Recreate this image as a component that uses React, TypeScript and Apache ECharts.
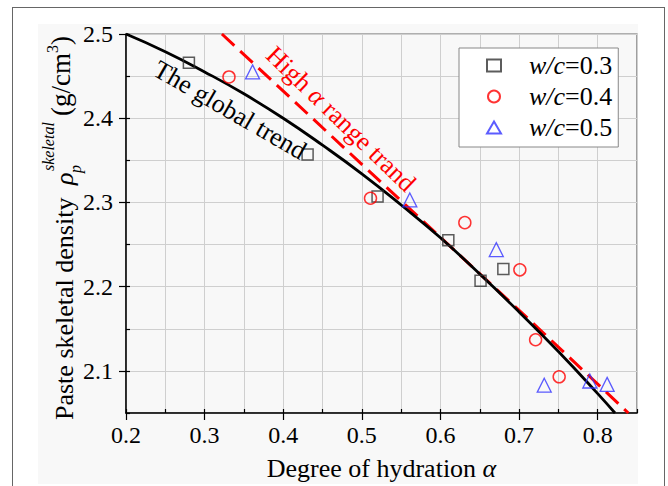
import React, { useEffect, useRef } from 'react';
import * as echarts from 'echarts';

const FONT = 'Liberation Serif';

// Measured data (degree of hydration α, skeletal density g/cm3)
const alphaWC03 = [0.280, 0.431, 0.520, 0.610, 0.651, 0.680];
const rhoWC03 = [2.466, 2.357, 2.307, 2.255, 2.207, 2.221];
const alphaWC04 = [0.331, 0.511, 0.631, 0.701, 0.721, 0.751];
const rhoWC04 = [2.449, 2.305, 2.276, 2.220, 2.137, 2.093];
const alphaWC05 = [0.361, 0.561, 0.671, 0.732, 0.790, 0.812];
const rhoWC05 = [2.455, 2.303, 2.244, 2.083, 2.088, 2.084];

// Trend lines
const globalAlpha = [0.20, 0.25, 0.30, 0.35, 0.40, 0.45, 0.50, 0.55, 0.60, 0.65, 0.70, 0.75, 0.80, 0.822];
const globalRho = [2.500, 2.479, 2.455, 2.429, 2.400, 2.368, 2.334, 2.297, 2.258, 2.215, 2.170, 2.123, 2.073, 2.050];
const highAlpha = [0.322, 0.498, 0.731, 0.839];
const highRho = [2.500, 2.347, 2.145, 2.050];

// Axis ticks
const xMajor = [0.2, 0.3, 0.4, 0.5, 0.6, 0.7, 0.8];
const yMajor = [2.1, 2.2, 2.3, 2.4, 2.5];

const seriesNames = ['w/c=0.3', 'w/c=0.4', 'w/c=0.5'];

const zip = (a: number[], b: number[]) => a.map((v, i) => [v, b[i]]);

export default function App() {
  const ref = useRef<HTMLDivElement>(null);
  useEffect(() => {
    document.body.style.margin = '0';
    const chart = echarts.init(ref.current!, null, { renderer: 'svg' });

    const baseTitle = { fill: '#000', fontFamily: FONT, textAlign: 'left', textVerticalAlign: 'middle' };
    const yTitle = {
      type: 'group',
      x: 72,
      y: 420,
      rotation: Math.PI / 2,
      children: [
        { type: 'text', x: 0, y: -8, style: { ...baseTitle, text: 'Paste skeletal density', fontSize: 26 } },
        { type: 'text', x: 235, y: -8, style: { ...baseTitle, text: 'ρ', fontSize: 26, fontStyle: 'italic' } },
        { type: 'text', x: 247, y: 3, style: { ...baseTitle, text: 'p', fontSize: 16, fontStyle: 'italic' } },
        { type: 'text', x: 249, y: -24, style: { ...baseTitle, text: 'skeletal', fontSize: 16, fontStyle: 'italic' } },
        {
          type: 'text', x: 304, y: -11,
          style: {
            ...baseTitle, text: '(g/cm{s|3})', fontSize: 27, lineHeight: 34,
            rich: { s: { fontSize: 16, fontFamily: FONT, fill: '#000', verticalAlign: 'top', lineHeight: 16 } },
          },
        },
      ],
    };

    const tickLabel = { fontSize: 24, fontFamily: FONT, color: '#000' };

    const option: any = {
      animation: false,
      backgroundColor: 'transparent',
      textStyle: { fontFamily: FONT },
      grid: {
        left: 126, right: 31, top: 34, bottom: 72,
        show: true, borderColor: '#666', borderWidth: 1.2, backgroundColor: 'transparent',
        containLabel: false,
      },
      legend: {
        orient: 'vertical',
        left: 459,
        top: 48,
        padding: [4, 6, 6, 27],
        itemGap: 4,
        itemWidth: 14,
        itemHeight: 12,
        backgroundColor: '#fff',
        borderColor: '#888',
        borderWidth: 1,
        data: seriesNames,
        formatter: (name: string) => '{i|w/c}' + name.slice(3),
        textStyle: {
          fontSize: 26, fontFamily: FONT, color: '#000', lineHeight: 27, padding: [0, 0, 0, 23],
          rich: { i: { fontSize: 26, fontFamily: FONT, fontStyle: 'italic', color: '#000', lineHeight: 27 } },
        },
      },
      xAxis: [
        {
          type: 'value', min: 0.2, max: 0.85, interval: 0.05, position: 'bottom',
          axisLine: { show: true, onZero: false, lineStyle: { color: '#000', width: 1.5 } },
          axisTick: { show: true, inside: false, length: 7, customValues: xMajor, lineStyle: { color: '#000', width: 1.2 } },
          axisLabel: { ...tickLabel, customValues: xMajor, margin: 10, formatter: (v: number) => v.toFixed(1) },
          splitLine: { show: false },
          name: 'Degree of hydration {a|α}',
          nameLocation: 'middle',
          nameGap: 42,
          nameTextStyle: {
            fontSize: 26, fontFamily: FONT, color: '#000',
            rich: { a: { fontSize: 26, fontFamily: FONT, fontStyle: 'italic', color: '#000' } },
          },
        },
        {
          type: 'value', min: 0.2, max: 0.85, interval: 0.05, position: 'bottom',
          axisLine: { show: false },
          axisTick: { show: true, inside: true, length: 4, lineStyle: { color: '#000', width: 1.2 } },
          axisLabel: { show: false },
          splitLine: { show: true, lineStyle: { color: '#cfcfcf', width: 1 } },
        },
      ],
      yAxis: [
        {
          type: 'value', min: 2.05, max: 2.5, interval: 0.05, position: 'left',
          axisLine: { show: true, onZero: false, lineStyle: { color: '#000', width: 1.5 } },
          axisTick: { show: true, inside: false, length: 7, customValues: yMajor, lineStyle: { color: '#000', width: 1.2 } },
          axisLabel: { ...tickLabel, customValues: yMajor, margin: 13, formatter: (v: number) => v.toFixed(1) },
          splitLine: { show: false },
        },
        {
          type: 'value', min: 2.05, max: 2.5, interval: 0.05, position: 'left',
          axisLine: { show: false },
          axisTick: { show: true, inside: true, length: 4, lineStyle: { color: '#000', width: 1.2 } },
          axisLabel: { show: false },
          splitLine: { show: true, lineStyle: { color: '#cfcfcf', width: 1 } },
        },
      ],
      series: [
        {
          type: 'line', name: 'The global trend', data: zip(globalAlpha, globalRho),
          showSymbol: false, smooth: true, lineStyle: { color: '#000', width: 2.8 }, z: 3,
        },
        {
          type: 'line', name: 'High α range trand', data: zip(highAlpha, highRho),
          showSymbol: false, lineStyle: { color: '#ff0000', width: 3, type: [17, 8] }, z: 2,
        },
        {
          type: 'scatter', name: seriesNames[0], symbol: 'rect', symbolSize: 11, z: 4,
          itemStyle: { color: 'transparent', borderColor: '#333', borderWidth: 1.5 },
          data: zip(alphaWC03, rhoWC03),
        },
        {
          type: 'scatter', name: seriesNames[1], symbol: 'circle', symbolSize: 12, z: 4,
          itemStyle: { color: 'transparent', borderColor: '#ff0000', borderWidth: 1.5 },
          data: zip(alphaWC04, rhoWC04),
        },
        {
          type: 'scatter', name: seriesNames[2], symbol: 'triangle', symbolSize: 14, z: 4,
          itemStyle: { color: 'transparent', borderColor: '#3333ff', borderWidth: 1.3 },
          data: zip(alphaWC05, rhoWC05),
        },
      ],
      graphic: [
        {
          type: 'text', x: 230, y: 110, rotation: (-30 * Math.PI) / 180, z: 10,
          style: { text: 'The global trend', fill: '#000', fontSize: 26, fontFamily: FONT, textAlign: 'center', textVerticalAlign: 'middle' },
        },
        {
          type: 'text', x: 341, y: 119, rotation: (-44 * Math.PI) / 180, z: 10,
          style: {
            text: 'High {a|α} range trand', fill: '#ff0000', fontSize: 26, fontFamily: FONT,
            textAlign: 'center', textVerticalAlign: 'middle',
            rich: { a: { fontStyle: 'italic', fontSize: 26, fontFamily: FONT, fill: '#ff0000' } },
          },
        },
        yTitle,
      ],
    };

    chart.setOption(option);
    return () => chart.dispose();
  }, []);

  return (
    <div style={{ position: 'relative', width: 668, height: 486, background: '#fff', overflow: 'hidden' }}>
      <div style={{ position: 'absolute', left: 12, top: 7, width: 653, height: 530, border: '1.5px solid #666', boxSizing: 'border-box' }} />
      <div style={{ position: 'absolute', left: 38, top: 24, width: 600, height: 460, background: '#f8f8f8' }} />
      <div ref={ref} style={{ position: 'absolute', left: 0, top: 0, width: 668, height: 486 }} />
    </div>
  );
}
